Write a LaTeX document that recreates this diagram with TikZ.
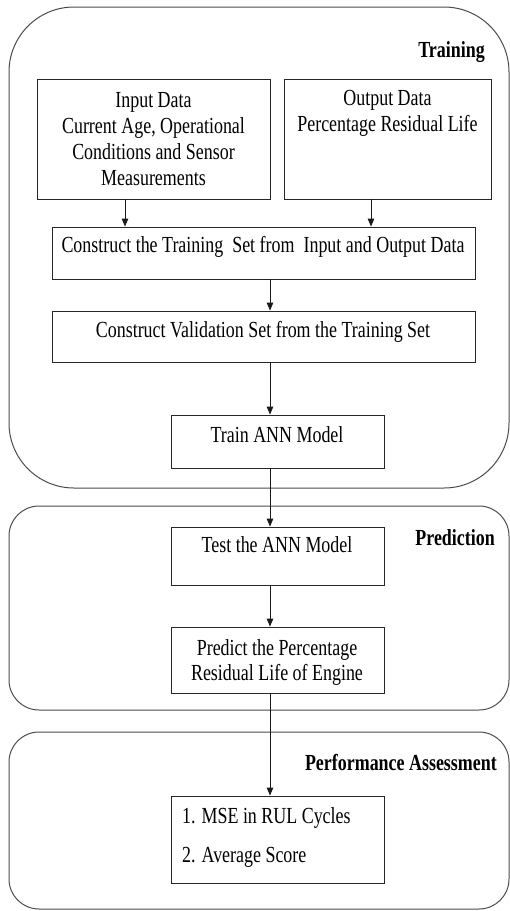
\documentclass[tikz,border=0pt]{standalone}
\usepackage{fontspec}
\setmainfont{Liberation Serif}[FakeStretch=0.78]
\usetikzlibrary{arrows.meta}
\begin{document}
\begin{tikzpicture}[x=1pt,y=-1pt,
  panel/.style={draw=black!70, line width=1pt, rectangle, inner sep=0pt},
  box/.style={draw=black!85, line width=0.9pt, rectangle, inner sep=0pt},
  txt/.style={font=\fontsize{23}{26}\selectfont, align=center, inner sep=0pt},
  lbl/.style={font=\bfseries\fontsize{23}{26}\selectfont, inner sep=0pt, anchor=east},
  arr/.style={-{Triangle[length=8pt,width=6.5pt]}, line width=0.9pt, draw=black!90},
  ln/.style={line width=0.9pt, draw=black!90}]
\useasboundingbox (0,0) rectangle (510,911);
% panels
\node[panel, rounded corners=65pt, minimum width=500pt, minimum height=481pt] (training) at (259,247.5) {};
\node[panel, rounded corners=30pt, minimum width=500pt, minimum height=204pt] (prediction) at (259,608) {};
\node[panel, rounded corners=30pt, minimum width=500pt, minimum height=177pt] (performance) at (259,820.5) {};
\node[lbl] (ltrain) at (485,52) {Training};
\node[lbl] (lpred) at (495,538) {Prediction};
\node[lbl] (lperf) at (497,763) {Performance Assessment};
% boxes
\node[box, minimum width=233pt, minimum height=120pt] (in) at (153.5,139) {};
\node[box, minimum width=207pt, minimum height=120pt] (out) at (387.5,139) {};
\node[box, minimum width=423pt, minimum height=52pt] (ts) at (263.5,253) {};
\node[box, minimum width=423pt, minimum height=51pt] (vs) at (263.5,336.5) {};
\node[box, minimum width=213pt, minimum height=53pt] (tr) at (277.5,441.5) {};
\node[box, minimum width=213pt, minimum height=58pt] (te) at (277.5,556) {};
\node[box, minimum width=213pt, minimum height=66pt] (pr) at (277.5,660) {};
\node[box, minimum width=213pt, minimum height=87pt] (ms) at (277.5,839.5) {};
% texts
\node[txt] (tin) at (153.5,139) {Input Data\\Current Age, Operational\\Conditions and Sensor\\Measurements};
\node[txt] (tout) at (387.5,113) {Output Data\\Percentage Residual Life};
\node[txt] (tts) at (263,247) {Construct the Training\ \ Set from\ \ Input and Output Data};
\node[txt] (tvs) at (263,332) {Construct Validation Set from the Training Set};
\node[txt] (ttr) at (277,435) {Train ANN Model};
\node[txt] (tte) at (277,545) {Test the ANN Model};
\node[txt, font=\fontsize{23}{25}\selectfont] (tpr) at (277,662.5) {Predict the Percentage\\Residual Life of Engine};
\node[txt, align=left, anchor=west, font=\fontsize{23}{39}\selectfont] (tms) at (182,837.5) {1. MSE in RUL Cycles\\2. Average Score};
% connectors
\coordinate (c1) at (125,0);
\coordinate (c2) at (371,0);
\coordinate (sp) at (270,0);
\draw[arr] (c1 |- in.south) -- (c1 |- ts.north);
\draw[arr] (c2 |- out.south) -- (c2 |- ts.north);
\draw[arr] (sp |- ts.south) -- (sp |- vs.north);
\draw[arr] (sp |- vs.south) -- (sp |- tr.north);
\draw[arr] (sp |- tr.south) -- (sp |- te.north);
\draw[arr] (sp |- te.south) -- (sp |- pr.north);
\draw[arr] (sp |- pr.south) -- (sp |- ms.north);
\end{tikzpicture}
\end{document}
